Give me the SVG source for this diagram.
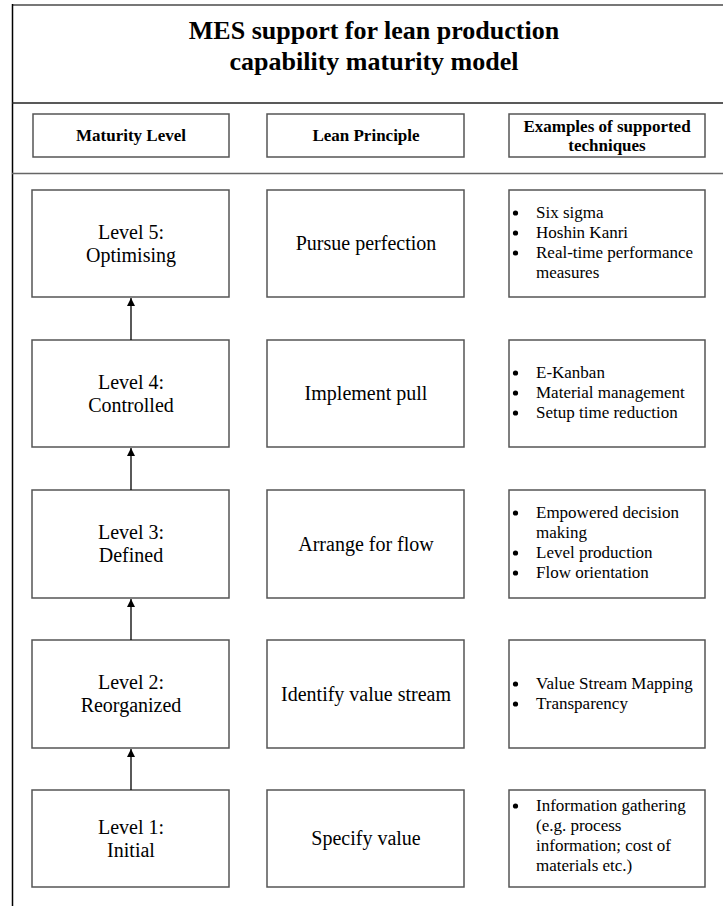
<svg xmlns="http://www.w3.org/2000/svg" width="723" height="906" viewBox="0 0 723 906">
<defs>
<style>
.box{fill:#fff;stroke:#555;stroke-width:1.5}
.t{font-family:"Liberation Serif","Times New Roman",serif;fill:#000}
.title{font-size:26px;font-weight:bold;text-anchor:middle}
.hdr{font-size:17px;font-weight:bold;text-anchor:middle}
.lv{font-size:20px;text-anchor:middle}
.lp{font-size:20px;text-anchor:middle}
.bl{font-size:17px}
.dot{fill:#000}
.conn{stroke:#000;stroke-width:1.3;fill:none;marker-end:url(#ah)}
</style>
<marker id="ah" viewBox="0 0 8 8" refX="8" refY="4" markerWidth="8" markerHeight="8" markerUnits="userSpaceOnUse" orient="auto">
<path d="M0,0 L8,4 L0,8 z" fill="#000"/>
</marker>
</defs>
<rect width="723" height="906" fill="#fff"/>
<g id="frame">
<line x1="12" y1="5" x2="723" y2="5" stroke="#777" stroke-width="2"/>
<line x1="12.5" y1="4" x2="12.5" y2="906" stroke="#000" stroke-width="1.5"/>
<line x1="12" y1="103" x2="723" y2="103" stroke="#222" stroke-width="1.5"/>
<line x1="12" y1="173.5" x2="723" y2="173.5" stroke="#666" stroke-width="1.5"/>
</g>
<g id="title">
<text class="t title" x="374" y="39">MES support for lean production</text>
<text class="t title" x="374" y="70">capability maturity model</text>
</g>
<g id="hdr-maturity">
<rect class="box" x="33" y="114" width="196" height="43"/>
<text class="t hdr" x="131" y="141">Maturity Level</text>
</g>
<g id="hdr-lean">
<rect class="box" x="267" y="114" width="197" height="43"/>
<text class="t hdr" x="366" y="141">Lean Principle</text>
</g>
<g id="hdr-examples">
<rect class="box" x="509" y="114" width="196" height="43"/>
<text class="t hdr" x="607" y="132">Examples of supported</text>
<text class="t hdr" x="607" y="151">techniques</text>
</g>
<g id="level5">
<rect class="box" x="32" y="190" width="197" height="107"/>
<text class="t lv" x="131" y="239">Level 5:</text>
<text class="t lv" x="131" y="262">Optimising</text>
</g>
<g id="level4">
<rect class="box" x="32" y="340" width="197" height="107"/>
<text class="t lv" x="131" y="389">Level 4:</text>
<text class="t lv" x="131" y="412">Controlled</text>
</g>
<g id="level3">
<rect class="box" x="32" y="490" width="197" height="108"/>
<text class="t lv" x="131" y="539">Level 3:</text>
<text class="t lv" x="131" y="562">Defined</text>
</g>
<g id="level2">
<rect class="box" x="32" y="640" width="197" height="108"/>
<text class="t lv" x="131" y="689">Level 2:</text>
<text class="t lv" x="131" y="712">Reorganized</text>
</g>
<g id="level1">
<rect class="box" x="32" y="790" width="197" height="97"/>
<text class="t lv" x="131" y="834">Level 1:</text>
<text class="t lv" x="131" y="857">Initial</text>
</g>
<g id="lean5">
<rect class="box" x="267" y="190" width="197" height="107"/>
<text class="t lp" x="366" y="250">Pursue perfection</text>
</g>
<g id="lean4">
<rect class="box" x="267" y="340" width="197" height="107"/>
<text class="t lp" x="366" y="400">Implement pull</text>
</g>
<g id="lean3">
<rect class="box" x="267" y="490" width="197" height="108"/>
<text class="t lp" x="366" y="551">Arrange for flow</text>
</g>
<g id="lean2">
<rect class="box" x="267" y="640" width="197" height="108"/>
<text class="t lp" x="366" y="701">Identify value stream</text>
</g>
<g id="lean1">
<rect class="box" x="267" y="790" width="197" height="97"/>
<text class="t lp" x="366" y="845">Specify value</text>
</g>
<g id="ex5">
<rect class="box" x="509" y="190" width="196" height="107"/>
<circle class="dot" cx="515.5" cy="213" r="2.6"/><text class="t bl" x="536" y="218">Six sigma</text>
<circle class="dot" cx="515.5" cy="233" r="2.6"/><text class="t bl" x="536" y="238">Hoshin Kanri</text>
<circle class="dot" cx="515.5" cy="253" r="2.6"/><text class="t bl" x="536" y="258">Real-time performance</text>
<text class="t bl" x="536" y="278">measures</text>
</g>
<g id="ex4">
<rect class="box" x="509" y="340" width="196" height="107"/>
<circle class="dot" cx="515.5" cy="373" r="2.6"/><text class="t bl" x="536" y="378">E-Kanban</text>
<circle class="dot" cx="515.5" cy="393" r="2.6"/><text class="t bl" x="536" y="398">Material management</text>
<circle class="dot" cx="515.5" cy="413" r="2.6"/><text class="t bl" x="536" y="418">Setup time reduction</text>
</g>
<g id="ex3">
<rect class="box" x="509" y="490" width="196" height="108"/>
<circle class="dot" cx="515.5" cy="513" r="2.6"/><text class="t bl" x="536" y="518">Empowered decision</text>
<text class="t bl" x="536" y="538">making</text>
<circle class="dot" cx="515.5" cy="553" r="2.6"/><text class="t bl" x="536" y="558">Level production</text>
<circle class="dot" cx="515.5" cy="573" r="2.6"/><text class="t bl" x="536" y="578">Flow orientation</text>
</g>
<g id="ex2">
<rect class="box" x="509" y="640" width="196" height="108"/>
<circle class="dot" cx="515.5" cy="684" r="2.6"/><text class="t bl" x="536" y="689">Value Stream Mapping</text>
<circle class="dot" cx="515.5" cy="704" r="2.6"/><text class="t bl" x="536" y="709">Transparency</text>
</g>
<g id="ex1">
<rect class="box" x="509" y="790" width="196" height="97"/>
<circle class="dot" cx="515.5" cy="806" r="2.6"/><text class="t bl" x="536" y="811">Information gathering</text>
<text class="t bl" x="536" y="831">(e.g. process</text>
<text class="t bl" x="536" y="851">information; cost of</text>
<text class="t bl" x="536" y="871">materials etc.)</text>
</g>
<g id="connectors">
<line class="conn" x1="131" y1="340" x2="131" y2="298"/>
<line class="conn" x1="131" y1="490" x2="131" y2="448"/>
<line class="conn" x1="131" y1="640" x2="131" y2="599"/>
<line class="conn" x1="131" y1="790" x2="131" y2="749"/>
</g>
</svg>
